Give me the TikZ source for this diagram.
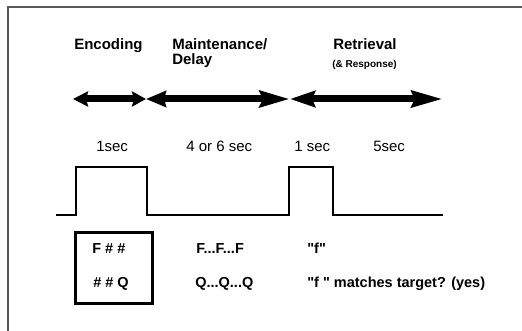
\documentclass[tikz,border=0pt]{standalone}
\usepackage{fontspec}
\setmainfont{Liberation Sans}
\usetikzlibrary{arrows.meta, positioning}

\begin{document}
\begin{tikzpicture}[x=1pt, y=-1pt, semithick,
    phase/.style={font=\fontsize{15}{15}\selectfont\bfseries, anchor=base west, inner sep=0pt},
    dur/.style={font=\fontsize{15}{15}\selectfont, anchor=base west, inner sep=0pt},
    stim/.style={font=\fontsize{14.5}{15}\selectfont\bfseries, anchor=base west, inner sep=0pt},
    span/.style={line width=7pt},
    wave/.style={line width=1.5pt, line join=miter}]
  \useasboundingbox (0,0) rectangle (522,331);
  % Rahmen
  \draw[line width=1.5pt, gray!70!black] (8,331) -- (8,7) -- (522,7);

  % Phasen
  \node[phase] (enc) at (74,50) {Encoding};
  \node[phase] (main) at (172,50) {Maintenance/};
  \node[phase] (delay) at (172,65) {Delay};
  \node[phase] (ret) at (333,50) {Retrieval};
  \node[phase, font=\fontsize{10}{10}\selectfont\bfseries] (resp) at (332,68) {(\& Response)};

  % Zeitachse
  \coordinate (t0) at (73,99);
  \coordinate (t1) at (146,99);
  \coordinate (t2) at (290,99);
  \coordinate (t3) at (443,99);
  \draw[span, {Stealth[length=15pt, width=15pt, inset=2pt]}-{Stealth[length=14pt, width=15pt, inset=2pt]}] (t0) -- (t1);
  \draw[span, {Stealth[length=20pt, width=16pt, inset=2pt]}-{Stealth[length=30pt, width=16pt, inset=3pt]}] (t1) -- (t2);
  \draw[span, {Stealth[length=25pt, width=16pt, inset=3pt]}-{Stealth[length=31pt, width=16pt, inset=3pt]}] (t2) -- (t3);

  % Dauer
  \node[dur] (d1) at (96,152) {1sec};
  \node[dur] (d2) at (186,152) {4 or 6 sec};
  \node[dur] (d3) at (294,152) {1 sec};
  \node[dur] (d4) at (373,152) {5sec};

  % Reizverlauf
  \draw[wave] (56,215) -- (76,215) -- (76,167) -- (147,167) -- (147,215)
    -- (289,215) -- (289,167) -- (333,167) -- (333,215) -- (443,215);

  % Reize
  \draw[line width=3pt] (75,233) rectangle (152,303);
  \node[stim] (s1) at (92,253) {F \# \#};
  \node[stim] (s2) at (93,287) {\# \# Q};
  \node[stim] (m1) at (196,253) {F...F...F};
  \node[stim] (m2) at (195,287) {Q...Q...Q};
  \node[stim] (r1) at (307,253) {\textquotedbl f\textquotedbl};
  \node[stim] (r2) at (307,287) {\textquotedbl f \textquotedbl{} matches target? (yes)};
\end{tikzpicture}
\end{document}
